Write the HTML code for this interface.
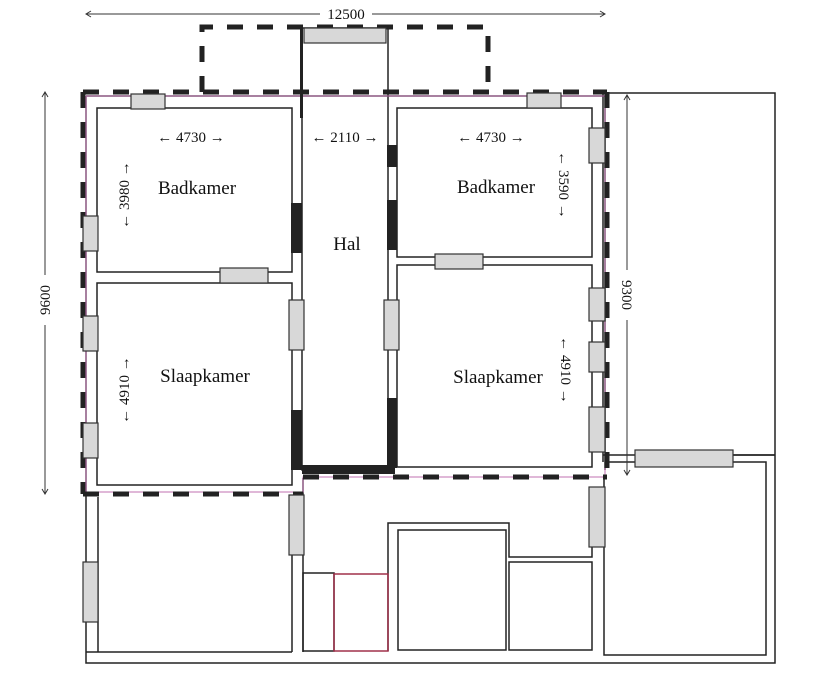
<!DOCTYPE html>
<html><head><meta charset="utf-8"><style>
body{margin:0;background:#fff;}
svg{display:block;}
text{font-family:"Liberation Serif",serif;fill:#111;}
</style></head><body>
<svg width="816" height="676" viewBox="0 0 816 676" xmlns="http://www.w3.org/2000/svg">
<g fill="none" stroke="#222" stroke-width="1.5">
<!-- outer building -->
<polyline points="86,96 86,663 775,663 775,93 603,93"/>
<line x1="603" y1="455" x2="775" y2="455"/>
<line x1="603" y1="93" x2="603" y2="462"/>
<polyline points="86,96 605,96 605,470"/>
<!-- hall -->
<rect x="302" y="28" width="86" height="442"/>
<!-- left rooms -->
<rect x="97" y="108" width="195" height="164"/>
<rect x="97" y="283" width="195" height="202"/>
<!-- right rooms -->
<rect x="397" y="108" width="195" height="149"/>
<rect x="397" y="265" width="195" height="202"/>
<!-- bottom -->
<polyline points="98,497 98,652"/>
<polyline points="292,497 292,652"/>
<line x1="303" y1="478" x2="303" y2="652"/>
<line x1="86" y1="652" x2="292" y2="652"/>
<rect x="303" y="573" width="31" height="78"/>
<polyline points="388,651 388,523 509,523 509,557 592,557 592,487"/>
<rect x="398" y="530" width="108" height="120"/>
<rect x="509" y="562" width="83" height="88"/>
<polyline points="604,477 604,655 766,655 766,462 733,462"/>
<line x1="605" y1="462" x2="635" y2="462"/>
<line x1="733" y1="455" x2="775" y2="455"/>
</g>
<rect x="334" y="574" width="54" height="77" fill="none" stroke="#a0304a" stroke-width="1.5"/>
<!-- pink outline -->
<polyline points="86,96 605,96 605,477 303,477 303,492 86,492 86,96" fill="none" stroke="#c070b0" stroke-width="1"/>
<!-- dashed outlines -->
<g fill="none" stroke="#222" stroke-width="5" stroke-dasharray="16,14">
<polyline points="202,92 202,27 488,27 488,92"/>
<line x1="83" y1="92" x2="607" y2="92"/>
<line x1="83" y1="92" x2="83" y2="494"/>
<line x1="83" y1="494" x2="303" y2="494"/>
<line x1="303" y1="477" x2="607" y2="477"/>
<line x1="607" y1="92" x2="607" y2="477"/>
</g>
<!-- black wall segments -->
<g fill="#222">
<rect x="291" y="203" width="11" height="50"/>
<rect x="291" y="410" width="11" height="60"/>
<rect x="387" y="145" width="10" height="22"/>
<rect x="387" y="200" width="10" height="50"/>
<rect x="387" y="398" width="10" height="70"/>
<rect x="302" y="465" width="93" height="9"/>
<rect x="300" y="28" width="3" height="90"/>
</g>
<!-- windows -->
<g fill="#d8d8d8" stroke="#333" stroke-width="1.2">
<rect x="304" y="28" width="82" height="15"/>
<rect x="131" y="94" width="34" height="15"/>
<rect x="527" y="93" width="34" height="15"/>
<rect x="83" y="216" width="15" height="35"/>
<rect x="220" y="268" width="48" height="15"/>
<rect x="83" y="316" width="15" height="35"/>
<rect x="83" y="423" width="15" height="35"/>
<rect x="289" y="300" width="15" height="50"/>
<rect x="384" y="300" width="15" height="50"/>
<rect x="589" y="128" width="16" height="35"/>
<rect x="435" y="254" width="48" height="15"/>
<rect x="589" y="288" width="16" height="33"/>
<rect x="589" y="342" width="16" height="30"/>
<rect x="589" y="407" width="16" height="45"/>
<rect x="635" y="450" width="98" height="17"/>
<rect x="289" y="495" width="15" height="60"/>
<rect x="589" y="487" width="16" height="60"/>
<rect x="83" y="562" width="15" height="60"/>
</g>
<!-- dimension lines -->
<g stroke="#333" stroke-width="1" fill="none">
<line x1="86" y1="14" x2="320" y2="14"/><line x1="372" y1="14" x2="605" y2="14"/>
<polyline points="91,11 86,14 91,17"/><polyline points="600,11 605,14 600,17"/>
<line x1="45" y1="92" x2="45" y2="275"/><line x1="45" y1="325" x2="45" y2="494"/>
<polyline points="42,97 45,92 48,97"/><polyline points="42,489 45,494 48,489"/>
<line x1="627" y1="95" x2="627" y2="270"/><line x1="627" y1="320" x2="627" y2="475"/>
<polyline points="624,100 627,95 630,100"/><polyline points="624,470 627,475 630,470"/>
</g>
<text x="346" y="19" font-size="15" text-anchor="middle">12500</text>
<text transform="translate(50,300) rotate(-90)" font-size="15" text-anchor="middle">9600</text>
<text transform="translate(622,295) rotate(90)" font-size="15" text-anchor="middle">9300</text>
<g font-size="15" text-anchor="middle">
<text x="191" y="142">← 4730 →</text>
<text x="345" y="142">← 2110 →</text>
<text x="491" y="142">← 4730 →</text>
<text transform="translate(129,195) rotate(-90)">← 3980 →</text>
<text transform="translate(129,390) rotate(-90)">← 4910 →</text>
<text transform="translate(559,185) rotate(90)">← 3590 →</text>
<text transform="translate(561,370) rotate(90)">← 4910 →</text>
</g>
<g font-size="19" text-anchor="middle">
<text x="197" y="194">Badkamer</text>
<text x="496" y="193">Badkamer</text>
<text x="347" y="250">Hal</text>
<text x="205" y="382">Slaapkamer</text>
<text x="498" y="383">Slaapkamer</text>
</g>
</svg>
</body></html>
